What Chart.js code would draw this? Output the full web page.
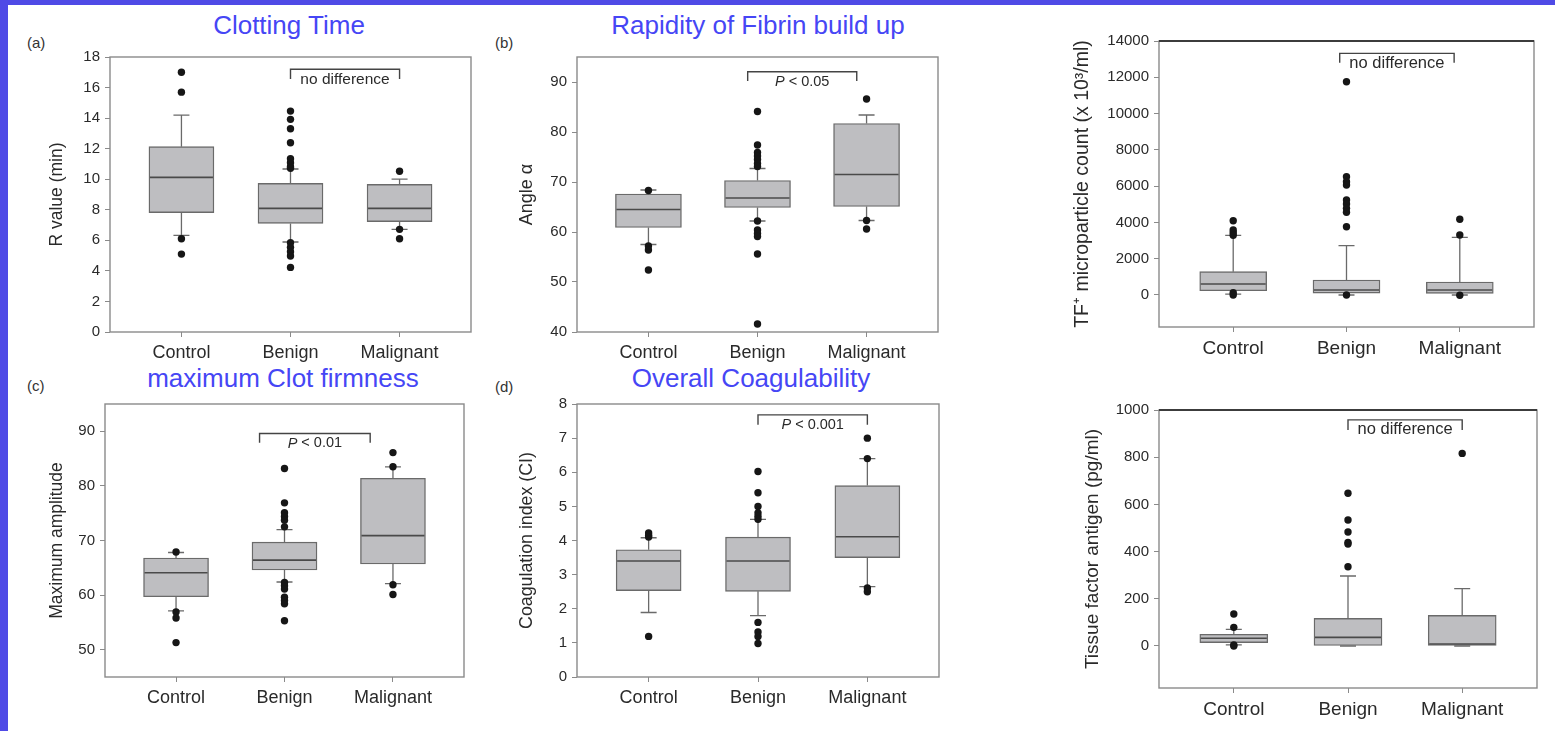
<!DOCTYPE html>
<html>
<head>
<meta charset="utf-8">
<script src="https://cdn.jsdelivr.net/npm/chart.js@4.4.0/dist/chart.umd.min.js"></script>
<style>
    body { margin: 0; width: 1555px; height: 731px; background: #fff; position: relative; overflow: hidden;
           font-family: Arial, "Liberation Sans", sans-serif; }
    .edge-top { position: absolute; left: 0; top: 0; width: 1555px; height: 5px; background: #4f4ae6; }
    .edge-left { position: absolute; left: 0; top: 0; width: 8px; height: 731px; background: #4f4ae6; }
    .panel-title { position: absolute; color: #4646f5; font-size: 26px; line-height: 26px; white-space: nowrap; transform: translateX(-50%); }
    .panel-tag { position: absolute; color: #333; font-size: 15px; line-height: 15px; }
    canvas { position: absolute; }
</style>
</head>
<body>
<div class="edge-top"></div>
<div class="edge-left"></div>

<div class="panel-title" style="left:289px; top:12px;">Clotting Time</div>
<div class="panel-title" style="left:758px; top:12px;">Rapidity of Fibrin build up</div>
<div class="panel-title" style="left:283px; top:365px;">maximum Clot firmness</div>
<div class="panel-title" style="left:751px; top:365px;">Overall Coagulability</div>

<div class="panel-tag" style="left:27px; top:35px;">(a)</div>
<div class="panel-tag" style="left:495px; top:35px;">(b)</div>
<div class="panel-tag" style="left:27px; top:378px;">(c)</div>
<div class="panel-tag" style="left:495px; top:379px;">(d)</div>

<script>
// --- Dados ---

const categories = ['Control', 'Benign', 'Malignant'];

// (a) Clotting Time - R value (min)
const rTicks = [0, 2, 4, 6, 8, 10, 12, 14, 16, 18];
const rQ1 = [7.81, 7.11, 7.22];
const rMedian = [10.12, 8.09, 8.09];
const rQ3 = [12.13, 9.73, 9.66];
const rLow = [6.33, 5.89, 6.72];
const rHigh = [14.2, 10.67, 10.01];
const rOutliers = [
    [17.0, 15.7, 6.1, 5.1],
    [14.46, 13.92, 13.3, 12.39, 11.34, 11.08, 10.82, 10.72, 5.85, 5.54, 5.26, 4.97, 4.23],
    [10.52, 6.72, 6.1]
];

// (b) Rapidity of Fibrin build up - Angle alpha
const angleTicks = [40, 50, 60, 70, 80, 90];
const angleQ1 = [60.9, 64.9, 65.1];
const angleMedian = [64.5, 66.8, 71.5];
const angleQ3 = [67.6, 70.3, 81.7];
const angleLow = [57.5, 62.2, 62.3];
const angleHigh = [68.4, 72.7, 83.4];
const angleOutliers = [
    [68.3, 57.2, 56.4, 52.4],
    [84.1, 77.4, 75.9, 75.2, 74.5, 73.7, 73.1, 62.2, 60.4, 59.7, 59.1, 55.6, 41.6],
    [86.6, 62.3, 60.6]
];

// TF+ microparticle count
const tfTicks = [0, 2000, 4000, 6000, 8000, 10000, 12000, 14000];
const tfQ1 = [237, 100, 92];
const tfMedian = [606, 276, 276];
const tfQ3 = [1285, 827, 717];
const tfLow = [50, 0, 0];
const tfHigh = [3290, 2717, 3179];
const tfOutliers = [
    [4095, 3583, 3434, 3290, 127, 0],
    [11757, 6520, 6245, 6063, 5236, 5016, 4777, 4557, 3765, 0],
    [4171, 3307, -18]
];

// (c) maximum Clot firmness - Maximum amplitude
const maTicks = [50, 60, 70, 80, 90];
const maQ1 = [59.7, 64.6, 65.7];
const maMedian = [64.1, 66.4, 70.9];
const maQ3 = [66.8, 69.7, 81.4];
const maLow = [57.1, 62.4, 62.1];
const maHigh = [67.8, 72.0, 83.5];
const maOutliers = [
    [67.9, 56.9, 55.8, 51.3],
    [83.2, 76.9, 75.1, 74.4, 73.7, 72.5, 62.3, 61.7, 61.1, 59.6, 59.0, 58.4, 55.3],
    [86.1, 83.5, 61.9, 60.1]
];

// (d) Overall Coagulability - Coagulation index (CI)
const ciTicks = [0, 1, 2, 3, 4, 5, 6, 7, 8];
const ciQ1 = [2.53, 2.51, 3.5];
const ciMedian = [3.4, 3.4, 4.11];
const ciQ3 = [3.73, 4.1, 5.61];
const ciLow = [1.89, 1.8, 2.65];
const ciHigh = [4.08, 4.62, 6.4];
const ciOutliers = [
    [4.22, 4.15, 4.1, 1.19],
    [6.02, 5.4, 5.0, 4.81, 4.71, 4.62, 1.6, 1.32, 1.19, 0.98],
    [7.0, 6.4, 2.61, 2.5]
];

// Tissue factor antigen (pg/ml)
const taTicks = [0, 200, 400, 600, 800, 1000];
const taQ1 = [14, 0, 0];
const taMedian = [32.6, 36.7, 8.5];
const taQ3 = [49.6, 117, 130];
const taLow = [5, 0, 0];
const taHigh = [70.6, 296.6, 243];
const taOutliers = [
    [135.6, 79, 4, 0],
    [647, 534, 483, 439, 432, 336],
    [816]
];

// --- Configuração de cada painel (posição e estilo) ---

const panels = [
    { id: 'chartA', left: 10, top: 40, width: 475, height: 335, padTop: 17, padRight: 14, yWidth: 100, xHeight: 43,
      yMin: 0, yMax: 18, ticks: rTicks, q1: rQ1, median: rMedian, q3: rQ3, low: rLow, high: rHigh, outliers: rOutliers,
      yTitle: 'R value (min)', yTitleSize: 17.5, yTitlePad: 37, tickSize: 15, labelSize: 18, boxWidth: 65,
      bracket: [1, 2, 17.2, 16.56], bracketItalic: '', bracketText: 'no difference', bracketSize: 15.5, dark: false },
    { id: 'chartB', left: 490, top: 40, width: 460, height: 335, padTop: 17, padRight: 12, yWidth: 87, xHeight: 43,
      yMin: 40, yMax: 95, ticks: angleTicks, q1: angleQ1, median: angleMedian, q3: angleQ3, low: angleLow, high: angleHigh, outliers: angleOutliers,
      yTitle: 'Angle α', yTitleSize: 18, yTitlePad: 26, tickSize: 15, labelSize: 18, boxWidth: 66,
      bracket: [0.91, 1.91, 92.06, 90.2], bracketItalic: 'P', bracketText: ' < 0.05', bracketSize: 14.5, dark: false },
    { id: 'chartTF', left: 1060, top: 25, width: 490, height: 350, padTop: 16, padRight: 16, yWidth: 99, xHeight: 48,
      yMin: -1764, yMax: 14000, ticks: tfTicks, q1: tfQ1, median: tfMedian, q3: tfQ3, low: tfLow, high: tfHigh, outliers: tfOutliers,
      yTitle: 'TF⁺ microparticle count (x 10³/ml)', yTitleSize: 19.5, yTitlePad: 11, tickSize: 15, labelSize: 19, boxWidth: 67,
      bracket: [0.94, 1.95, 13320, 12806], bracketItalic: '', bracketText: 'no difference', bracketSize: 16.5, dark: true },
    { id: 'chartC', left: 10, top: 390, width: 470, height: 335, padTop: 12, padRight: 16, yWidth: 95, xHeight: 48,
      yMin: 45, yMax: 95, ticks: maTicks, q1: maQ1, median: maMedian, q3: maQ3, low: maLow, high: maHigh, outliers: maOutliers,
      yTitle: 'Maximum amplitude', yTitleSize: 17.5, yTitlePad: 37, tickSize: 15, labelSize: 18, boxWidth: 65,
      bracket: [0.77, 1.79, 89.6, 87.9], bracketItalic: 'P', bracketText: ' < 0.01', bracketSize: 14.5, dark: false },
    { id: 'chartD', left: 490, top: 390, width: 460, height: 335, padTop: 12, padRight: 11, yWidth: 87, xHeight: 48,
      yMin: 0, yMax: 8, ticks: ciTicks, q1: ciQ1, median: ciMedian, q3: ciQ3, low: ciLow, high: ciHigh, outliers: ciOutliers,
      yTitle: 'Coagulation index (CI)', yTitleSize: 17.8, yTitlePad: 26, tickSize: 15, labelSize: 18, boxWidth: 65,
      bracket: [1, 2, 7.68, 7.39], bracketItalic: 'P', bracketText: ' < 0.001', bracketSize: 14.5, dark: false },
    { id: 'chartTA', left: 1060, top: 395, width: 490, height: 331, padTop: 15, padRight: 13, yWidth: 99, xHeight: 38,
      yMin: -178, yMax: 1000, ticks: taTicks, q1: taQ1, median: taMedian, q3: taQ3, low: taLow, high: taHigh, outliers: taOutliers,
      yTitle: 'Tissue factor antigen (pg/ml)', yTitleSize: 19, yTitlePad: 21, tickSize: 15, labelSize: 19, boxWidth: 68,
      bracket: [1, 2, 958, 915], bracketItalic: '', bracketText: 'no difference', bracketSize: 16.5, dark: true }
];

Chart.defaults.font.family = 'Arial, "Liberation Sans", sans-serif';

// Plugin: bigodes, mediana, moldura e colchete de comparação
function boxExtras(p) {
    return {
        id: 'boxExtras',
        afterDatasetDraw(chart, args) {
            if (args.meta.type !== 'bar') return;
            const { ctx } = chart;
            const xs = chart.scales.x, ys = chart.scales.y;
            ctx.save();
            categories.forEach((c, i) => {
                const cx = xs.getPixelForValue(i);
                const half = p.boxWidth / 2;
                const yLow = ys.getPixelForValue(p.low[i]);
                const yHigh = ys.getPixelForValue(p.high[i]);
                const yQ1 = ys.getPixelForValue(p.q1[i]);
                const yQ3 = ys.getPixelForValue(p.q3[i]);
                const yMed = ys.getPixelForValue(p.median[i]);
                ctx.strokeStyle = '#6a6a6a';
                ctx.lineWidth = 1.3;
                ctx.beginPath();
                ctx.moveTo(cx, yQ1); ctx.lineTo(cx, yLow);
                ctx.moveTo(cx, yQ3); ctx.lineTo(cx, yHigh);
                ctx.moveTo(cx - 8, yLow); ctx.lineTo(cx + 8, yLow);
                ctx.moveTo(cx - 8, yHigh); ctx.lineTo(cx + 8, yHigh);
                ctx.stroke();
                ctx.strokeStyle = '#4a4a4a';
                ctx.lineWidth = 1.6;
                ctx.beginPath();
                ctx.moveTo(cx - half + 1, yMed); ctx.lineTo(cx + half - 1, yMed);
                ctx.stroke();
            });
            ctx.restore();
        },
        afterDraw(chart) {
            const { ctx, chartArea: a } = chart;
            const xs = chart.scales.x, ys = chart.scales.y;
            ctx.save();
            // moldura do gráfico
            ctx.strokeStyle = '#8a8a8a';
            ctx.lineWidth = 1.4;
            ctx.strokeRect(a.left, a.top, a.right - a.left, a.bottom - a.top);
            if (p.dark) {
                ctx.strokeStyle = '#3c3c3c';
                ctx.lineWidth = 1.8;
                ctx.beginPath();
                ctx.moveTo(a.left, a.top); ctx.lineTo(a.right, a.top);
                ctx.stroke();
            }
            // colchete
            const [from, to, level, legLevel] = p.bracket;
            const x1 = xs.getPixelForValue(from), x2 = xs.getPixelForValue(to);
            const yb = ys.getPixelForValue(level), yl = ys.getPixelForValue(legLevel);
            ctx.strokeStyle = '#444';
            ctx.lineWidth = 1.4;
            ctx.beginPath();
            ctx.moveTo(x1, yl); ctx.lineTo(x1, yb); ctx.lineTo(x2, yb); ctx.lineTo(x2, yl);
            ctx.stroke();
            // texto do colchete (P em itálico)
            const italicFont = 'italic ' + p.bracketSize + 'px Arial, "Liberation Sans", sans-serif';
            const normalFont = p.bracketSize + 'px Arial, "Liberation Sans", sans-serif';
            ctx.font = italicFont;
            const wItalic = ctx.measureText(p.bracketItalic).width;
            ctx.font = normalFont;
            const wText = ctx.measureText(p.bracketText).width;
            let tx = (x1 + x2) / 2 - (wItalic + wText) / 2;
            const ty = yb + 10;
            ctx.fillStyle = '#2a2a2a';
            ctx.textBaseline = 'middle';
            ctx.textAlign = 'left';
            if (p.bracketItalic) {
                ctx.font = italicFont;
                ctx.fillText(p.bracketItalic, tx, ty);
                tx += wItalic;
            }
            ctx.font = normalFont;
            ctx.fillText(p.bracketText, tx, ty);
            ctx.restore();
        }
    };
}

function renderPanel(p) {
    const canvas = document.createElement('canvas');
    canvas.id = p.id;
    canvas.width = p.width;
    canvas.height = p.height;
    canvas.style.left = p.left + 'px';
    canvas.style.top = p.top + 'px';
    document.body.appendChild(canvas);

    new Chart(canvas.getContext('2d'), {
        type: 'bar',
        data: {
            datasets: [
                {
                    type: 'bar',
                    data: p.q1.map((v, i) => ({ x: i, y: [v, p.q3[i]] })),
                    backgroundColor: '#bebec1',
                    borderColor: '#6a6a6a',
                    borderWidth: 1.4,
                    borderSkipped: false,
                    barThickness: p.boxWidth,
                    order: 2
                },
                {
                    type: 'scatter',
                    data: p.outliers.flatMap((list, i) => list.map(v => ({ x: i, y: v }))),
                    pointRadius: 3.7,
                    pointBackgroundColor: '#161616',
                    pointBorderWidth: 0,
                    borderWidth: 0,
                    order: 1
                }
            ]
        },
        options: {
            responsive: false,
            animation: false,
            layout: { padding: { top: p.padTop, right: p.padRight, left: 0, bottom: 0 } },
            plugins: { legend: { display: false }, tooltip: { enabled: false } },
            scales: {
                x: {
                    type: 'linear',
                    min: -0.655,
                    max: 2.655,
                    offset: false,
                    afterBuildTicks: s => { s.ticks = categories.map((c, i) => ({ value: i })); },
                    afterFit: s => { s.height = p.xHeight; },
                    ticks: {
                        callback: v => categories[v],
                        color: '#2a2a2a',
                        font: { size: p.labelSize },
                        padding: 5,
                        maxRotation: 0,
                        autoSkip: false
                    },
                    grid: { drawOnChartArea: false, offset: false, tickLength: 5, color: '#8a8a8a' },
                    border: { display: false }
                },
                y: {
                    min: p.yMin,
                    max: p.yMax,
                    afterBuildTicks: s => { s.ticks = p.ticks.map(v => ({ value: v })); },
                    afterFit: s => { s.width = p.yWidth; },
                    ticks: {
                        callback: v => String(v),
                        color: '#2a2a2a',
                        font: { size: p.tickSize },
                        padding: 5
                    },
                    grid: { drawOnChartArea: false, tickLength: 5, color: '#8a8a8a' },
                    border: { display: false },
                    title: {
                        display: true,
                        text: p.yTitle,
                        color: '#2a2a2a',
                        font: { size: p.yTitleSize },
                        padding: { top: p.yTitlePad, bottom: 0 }
                    }
                }
            }
        },
        plugins: [boxExtras(p)]
    });
}

panels.forEach(renderPanel);
</script>
</body>
</html>
